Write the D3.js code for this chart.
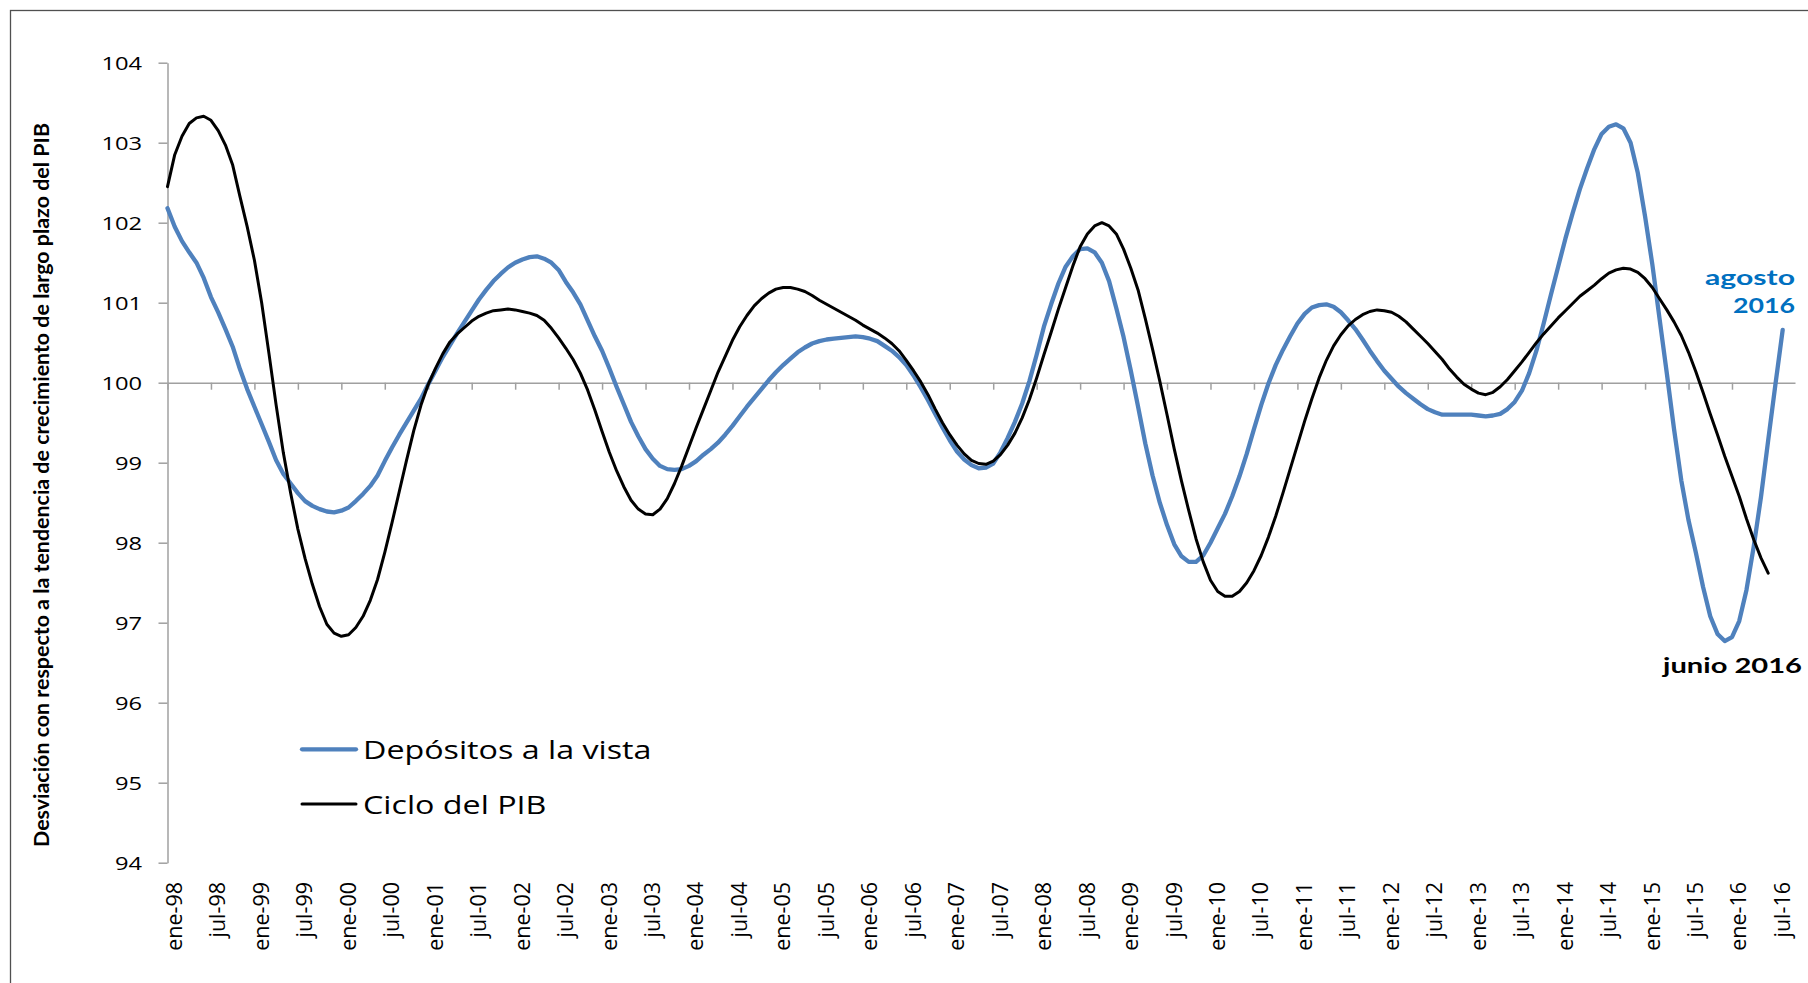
<!DOCTYPE html>
<html>
<head>
<meta charset="utf-8">
<script src="https://cdn.jsdelivr.net/npm/d3@7"></script>
<style>
  body { margin: 0; background: #fff; }
  svg { display: block; }
</style>
</head>
<body>
<svg id="chart" width="1808" height="983"></svg>
<script>
// monthly series, starting ene-98 (index 0)
var depositos = [
  102.18, 101.95, 101.77, 101.63, 101.50, 101.31, 101.07, 100.88, 100.67, 100.45, 100.17, 99.92,
  99.70, 99.48, 99.26, 99.03, 98.86, 98.74, 98.62, 98.52, 98.46, 98.42, 98.39, 98.38,
  98.40, 98.44, 98.52, 98.61, 98.71, 98.84, 99.02, 99.19, 99.35, 99.50, 99.65, 99.80,
  99.98, 100.15, 100.32, 100.47, 100.62, 100.76, 100.90, 101.04, 101.16, 101.27, 101.36, 101.44,
  101.50, 101.54, 101.57, 101.58, 101.55, 101.50, 101.41, 101.26, 101.13, 100.98, 100.78, 100.58,
  100.40, 100.18, 99.95, 99.73, 99.51, 99.33, 99.17, 99.05, 98.96, 98.92, 98.91, 98.92,
  98.96, 99.02, 99.10, 99.17, 99.25, 99.35, 99.46, 99.58, 99.70, 99.81, 99.92, 100.03,
  100.13, 100.22, 100.30, 100.38, 100.44, 100.49, 100.52, 100.54, 100.55, 100.56, 100.57, 100.58,
  100.57, 100.55, 100.52, 100.46, 100.40, 100.32, 100.22, 100.09, 99.94, 99.78, 99.61, 99.44,
  99.28, 99.14, 99.04, 98.97, 98.93, 98.94, 98.99, 99.13, 99.31, 99.51, 99.74, 100.02,
  100.35, 100.70, 100.98, 101.24, 101.45, 101.58, 101.67, 101.68, 101.63, 101.50, 101.27, 100.93,
  100.57, 100.15, 99.70, 99.24, 98.84, 98.50, 98.22, 97.98, 97.83, 97.76, 97.76, 97.84,
  98.00, 98.18, 98.36, 98.58, 98.83, 99.11, 99.42, 99.72, 99.99, 100.22, 100.41, 100.58,
  100.74, 100.86, 100.94, 100.97, 100.98, 100.95, 100.88, 100.78, 100.67, 100.54, 100.40, 100.27,
  100.15, 100.05, 99.95, 99.87, 99.80, 99.73, 99.67, 99.63, 99.60, 99.60, 99.60, 99.60,
  99.60, 99.59, 99.58, 99.59, 99.61, 99.67, 99.76, 99.90, 100.12, 100.40, 100.74, 101.10,
  101.45, 101.80, 102.12, 102.42, 102.68, 102.92, 103.11, 103.20, 103.23, 103.18, 103.00, 102.62,
  102.08, 101.48, 100.80, 100.12, 99.42, 98.78, 98.28, 97.88, 97.45, 97.08, 96.86, 96.77,
  96.82, 97.02, 97.41, 97.95, 98.57, 99.28, 99.98, 100.66
];

var cicloPIB = [
  102.45, 102.85, 103.08, 103.24, 103.31, 103.33, 103.28, 103.15, 102.97, 102.72, 102.33, 101.95,
  101.53, 101.00, 100.37, 99.72, 99.12, 98.62, 98.17, 97.80, 97.48, 97.20, 96.98, 96.87,
  96.83, 96.85, 96.94, 97.08, 97.28, 97.54, 97.88, 98.25, 98.64, 99.03, 99.40, 99.72,
  99.98, 100.18, 100.36, 100.51, 100.61, 100.69, 100.77, 100.83, 100.87, 100.90, 100.91, 100.92,
  100.91, 100.89, 100.87, 100.84, 100.78, 100.68, 100.56, 100.43, 100.29, 100.12, 99.91, 99.66,
  99.39, 99.13, 98.90, 98.70, 98.53, 98.42, 98.36, 98.35, 98.42, 98.55, 98.74, 98.96,
  99.20, 99.44, 99.67, 99.90, 100.13, 100.33, 100.53, 100.70, 100.84, 100.96, 101.05, 101.12,
  101.17, 101.19, 101.19, 101.17, 101.14, 101.09, 101.03, 100.98, 100.93, 100.88, 100.83, 100.78,
  100.72, 100.67, 100.62, 100.56, 100.49, 100.40, 100.28, 100.15, 100.01, 99.85, 99.67, 99.50,
  99.35, 99.22, 99.11, 99.03, 98.99, 98.98, 99.02, 99.10, 99.22, 99.37, 99.56, 99.79,
  100.06, 100.35, 100.63, 100.92, 101.19, 101.46, 101.70, 101.86, 101.96, 102.00, 101.96, 101.86,
  101.67, 101.43, 101.16, 100.80, 100.42, 100.02, 99.60, 99.17, 98.77, 98.40, 98.05, 97.76,
  97.53, 97.39, 97.33, 97.33, 97.39, 97.50, 97.65, 97.84, 98.07, 98.33, 98.62, 98.92,
  99.22, 99.52, 99.80, 100.06, 100.28, 100.46, 100.60, 100.71, 100.79, 100.85, 100.89, 100.91,
  100.90, 100.88, 100.83, 100.76, 100.67, 100.58, 100.49, 100.39, 100.29, 100.17, 100.07, 99.98,
  99.92, 99.87, 99.85, 99.88, 99.95, 100.04, 100.15, 100.26, 100.38, 100.50, 100.61, 100.71,
  100.81, 100.90, 100.99, 101.08, 101.15, 101.22, 101.30, 101.37, 101.41, 101.43, 101.42, 101.38,
  101.30, 101.19, 101.05, 100.91, 100.76, 100.59, 100.38, 100.14, 99.88, 99.61, 99.35, 99.08,
  98.83, 98.58, 98.30, 98.04, 97.81, 97.62
];

var tickLabels = [
  'ene-98', 'jul-98', 'ene-99', 'jul-99', 'ene-00', 'jul-00', 'ene-01', 'jul-01',
  'ene-02', 'jul-02', 'ene-03', 'jul-03', 'ene-04', 'jul-04', 'ene-05', 'jul-05',
  'ene-06', 'jul-06', 'ene-07', 'jul-07', 'ene-08', 'jul-08', 'ene-09', 'jul-09',
  'ene-10', 'jul-10', 'ene-11', 'jul-11', 'ene-12', 'jul-12', 'ene-13', 'jul-13',
  'ene-14', 'jul-14', 'ene-15', 'jul-15', 'ene-16', 'jul-16'
];
var yTicks = [94, 95, 96, 97, 98, 99, 100, 101, 102, 103, 104];
var seriesNames = ['Depósitos a la vista', 'Ciclo del PIB'];
var yTitle = 'Desviación con respecto a la tendencia de crecimiento de largo plazo del PIB';

var blue = '#4f81bd';
var axisGray = '#a0a0a0';
var sansFont = "'Open Sans', 'Noto Sans', sans-serif";
var boldFont = "Lato, 'Noto Sans', sans-serif";

// text in the original is drawn wider than the font, stretch it to match
var widen = (sel, k) => {
    sel.each(function() {
        var w = this.getComputedTextLength();
        d3.select(this)
            .attr('textLength', w * k)
            .attr('lengthAdjust', 'spacingAndGlyphs');
    });
};

var svg = d3.select('#chart');

svg.append('rect')
    .attr('width', 1808)
    .attr('height', 983)
    .attr('fill', '#fff');

// outer chart frame (right and bottom edges fall outside the picture)
svg.append('rect')
    .attr('x', 10.5)
    .attr('y', 10.5)
    .attr('width', 1900)
    .attr('height', 1000)
    .attr('fill', 'none')
    .attr('stroke', '#505050')
    .attr('stroke-width', 1.3);

var x = d3.scaleLinear().domain([0, 224.7]).range([167.5, 1795]);
var y = d3.scaleLinear().domain([94, 104]).range([862.7, 62.7]);

// y axis
var yAxis = svg.append('g')
    .attr('transform', `translate(${x(0)},0)`)
    .call(d3.axisLeft(y).tickValues(yTicks).tickSize(9).tickSizeOuter(0).tickPadding(16.5));

yAxis.select('.domain').attr('stroke', axisGray).attr('stroke-width', 1.5);
yAxis.selectAll('.tick line').attr('stroke', axisGray).attr('stroke-width', 1.5);
yAxis.selectAll('.tick text')
    .attr('fill', '#000')
    .attr('dy', '0.36em')
    .style('font-family', sansFont)
    .style('font-size', '18.5px')
    .call(widen, 1.28);

// category axis crosses at 100
var xAxis = svg.append('g')
    .attr('transform', `translate(0,${y(100)})`)
    .call(d3.axisBottom(x).tickValues(d3.range(0, 223, 6)).tickSize(7).tickSizeOuter(0).tickFormat(''));

xAxis.select('.domain').attr('stroke', axisGray).attr('stroke-width', 1.5);
xAxis.selectAll('.tick line').attr('stroke', axisGray).attr('stroke-width', 1.5);

// rotated month labels at the bottom
svg.append('g')
    .selectAll('text')
    .data(tickLabels)
    .join('text')
    .attr('transform', (d, k) => `translate(${x(k * 6) + 14.5},882) rotate(-90)`)
    .attr('text-anchor', 'end')
    .style('font-family', sansFont)
    .style('font-size', '21.5px')
    .attr('fill', '#000')
    .text(d => d);

// y axis title
svg.append('text')
    .attr('transform', `translate(49,${(122.7 + 847.3) / 2}) rotate(-90)`)
    .attr('text-anchor', 'middle')
    .style('font-family', boldFont)
    .style('font-weight', 'bold')
    .style('font-size', '21.5px')
    .attr('textLength', 724)
    .attr('lengthAdjust', 'spacingAndGlyphs')
    .text(yTitle);

// series lines
var line = d3.line()
    .x((d, i) => x(i))
    .y(d => y(d));

svg.append('path')
    .datum(depositos)
    .attr('d', line)
    .attr('fill', 'none')
    .attr('stroke', blue)
    .attr('stroke-width', 4.3)
    .attr('stroke-linejoin', 'round')
    .attr('stroke-linecap', 'round');

svg.append('path')
    .datum(cicloPIB)
    .attr('d', line)
    .attr('fill', 'none')
    .attr('stroke', '#000')
    .attr('stroke-width', 3)
    .attr('stroke-linejoin', 'round')
    .attr('stroke-linecap', 'round');

// legend
var legend = svg.append('g')
    .selectAll('g')
    .data(seriesNames)
    .join('g')
    .attr('transform', (d, i) => `translate(302,${749.3 + i * 54.7})`);

legend.append('line')
    .attr('x1', 0)
    .attr('x2', 54)
    .attr('stroke', (d, i) => i === 0 ? blue : '#000')
    .attr('stroke-width', (d, i) => i === 0 ? 4.3 : 3)
    .attr('stroke-linecap', 'round');

legend.append('text')
    .attr('x', 61)
    .attr('y', 9.5)
    .style('font-family', sansFont)
    .style('font-size', '26px')
    .attr('fill', '#000')
    .text(d => d)
    .call(widen, 1.24);

// end-of-series notes
var notes = [
    {text: 'agosto', x: 1795, y: 285, w: 90, color: '#0070c0'},
    {text: '2016', x: 1795, y: 313, w: 62, color: '#0070c0'},
    {text: 'junio 2016', x: 1802, y: 673, w: 139, color: '#000'}
];

svg.append('g')
    .selectAll('text')
    .data(notes)
    .join('text')
    .attr('x', d => d.x)
    .attr('y', d => d.y)
    .attr('text-anchor', 'end')
    .style('font-family', boldFont)
    .style('font-weight', 'bold')
    .style('font-size', '21.5px')
    .attr('fill', d => d.color)
    .attr('textLength', d => d.w)
    .attr('lengthAdjust', 'spacingAndGlyphs')
    .text(d => d.text);
</script>
</body>
</html>
